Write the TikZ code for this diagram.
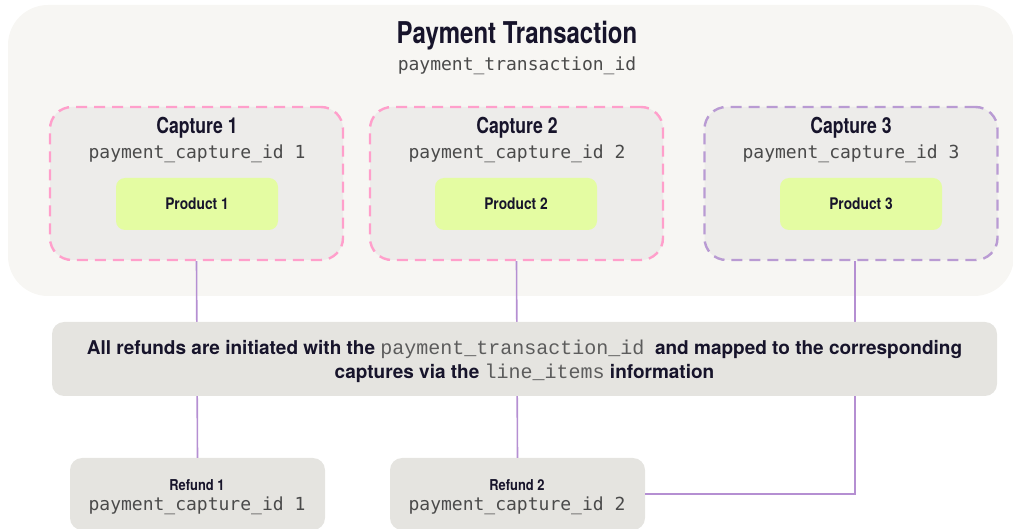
\documentclass[tikz,border=0pt]{standalone}
\usepackage{fontspec}
\setmainfont{TeX Gyre Heros}[FakeStretch=0.8]
\newfontfamily\hsemi{TeX Gyre Heros}[FakeStretch=0.86]
\newfontfamily\hwide{TeX Gyre Heros}
\newfontfamily\midmono{Liberation Mono}
\setmonofont{DejaVu Sans Mono}
\definecolor{outerbg}{HTML}{F7F6F3}
\definecolor{capbg}{HTML}{EDECEA}
\definecolor{pinkd}{HTML}{FF9FCB}
\definecolor{purpd}{HTML}{B99BD3}
\definecolor{lime}{HTML}{E4FCA2}
\definecolor{midbg}{HTML}{E5E4E0}
\definecolor{conn}{HTML}{B58FD2}
\definecolor{ink}{HTML}{17142B}
\definecolor{monoc}{HTML}{4A4A4A}
\definecolor{monol}{HTML}{5C5C5C}
\tikzset{
  capbox/.style={draw=#1, fill=capbg, line width=2.4pt, dash pattern=on 11pt off 7pt,
    rounded corners=22pt, minimum width=293pt, minimum height=153pt, inner sep=0pt},
  prodbox/.style={fill=lime, rounded corners=9pt, minimum width=162pt, minimum height=52pt,
    inner sep=0pt, font=\hsemi\fontsize{16}{18}\selectfont\bfseries, text=ink},
  graybox/.style={fill=midbg, rounded corners=12pt, inner sep=0pt},
  captitle/.style={font=\fontsize{22}{24}\selectfont\bfseries, text=ink, inner sep=0pt},
  monotxt/.style={font=\fontsize{18}{20}\selectfont\ttfamily, text=monoc, inner sep=0pt},
  refttl/.style={font=\hsemi\fontsize{15}{17}\selectfont\bfseries, text=ink, inner sep=0pt},
  connline/.style={draw=conn, line width=1.6pt},
}
\begin{document}
\begin{tikzpicture}[x=1pt,y=-1pt]
\useasboundingbox (0,0) rectangle (1013,529);
% outer transaction box
\node[fill=outerbg, rounded corners=40pt, minimum width=1006pt, minimum height=291pt, inner sep=0pt]
  (txn) at (511,150.5) {};
\node[font=\fontsize{30}{32}\selectfont\bfseries, text=ink, inner sep=0pt] (txnttl) at (517,36) {Payment Transaction};
\node[monotxt] (txnid) at (517,66) {payment\_transaction\_id};
% captures
\node[capbox=pinkd] (cap1) at (196.5,183.5) {};
\node[capbox=pinkd] (cap2) at (516.5,183.5) {};
\node[capbox=purpd] (cap3) at (851,183.5) {};
\node[captitle] (c1t) at (197,128) {Capture 1};
\node[captitle] (c2t) at (517,128) {Capture 2};
\node[captitle] (c3t) at (851,128) {Capture 3};
\node[monotxt] (c1i) at (197,154) {payment\_capture\_id 1};
\node[monotxt] (c2i) at (517,154) {payment\_capture\_id 2};
\node[monotxt] (c3i) at (851,154) {payment\_capture\_id 3};
\node[prodbox] (p1) at (197,204) {Product 1};
\node[prodbox] (p2) at (516,204) {Product 2};
\node[prodbox] (p3) at (861,204) {Product 3};
% refunds
\node[graybox, minimum width=255pt, minimum height=72pt] (ref1) at (197.5,494) {};
\node[graybox, minimum width=255pt, minimum height=72pt] (ref2) at (517.5,494) {};
\node[refttl] (r1t) at (197,485) {Refund 1};
\node[refttl] (r2t) at (517,485) {Refund 2};
\node[monotxt] (r1i) at (197,506) {payment\_capture\_id 1};
\node[monotxt] (r2i) at (517,506) {payment\_capture\_id 2};
% connectors
\draw[connline] (cap1.south) -- (ref1.north);
\draw[connline] (cap2.south) -- (ref2.north);
\coordinate (c3x) at ([xshift=4pt]cap3.south);
\draw[connline] (c3x) |- (ref2.east);
% middle explanatory box
\node[graybox, minimum width=945pt, minimum height=74pt] (mid) at (524.5,359) {};
\node[font=\hwide\fontsize{19}{24}\selectfont\bfseries, text=ink, align=center, inner sep=0pt] (midtxt) at (524.5,361)
  {All refunds are initiated with the {\mdseries\midmono\fontsize{20}{24}\selectfont\color{monol}payment\_transaction\_id}\ \ and mapped to the corresponding\\
   captures via the {\mdseries\midmono\fontsize{20}{24}\selectfont\color{monol}line\_items} information};
\end{tikzpicture}
\end{document}
